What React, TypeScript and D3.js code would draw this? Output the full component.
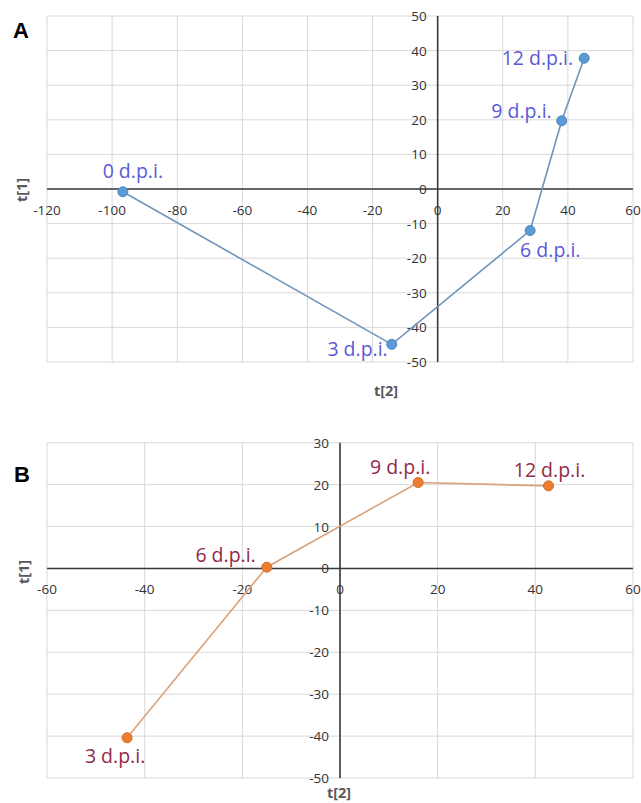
import React from "react";
import * as d3 from "d3";

// Panel A data
const labelsA = ["0 d.p.i.", "3 d.p.i.", "6 d.p.i.", "9 d.p.i.", "12 d.p.i."];
const t2A = [-96.7, -14.1, 28.4, 38.1, 45.0];
const t1A = [-0.8, -44.9, -12.0, 19.7, 37.8];

// Panel B data
const labelsB = ["3 d.p.i.", "6 d.p.i.", "9 d.p.i.", "12 d.p.i."];
const t2B = [-43.6, -15.0, 16.0, 42.7];
const t1B = [-40.4, 0.3, 20.5, 19.7];

// Axis ticks
const xTicksA = [-120, -100, -80, -60, -40, -20, 0, 20, 40, 60];
const yTicksA = [-50, -40, -30, -20, -10, 0, 10, 20, 30, 40, 50];
const xTicksB = [-60, -40, -20, 0, 20, 40, 60];
const yTicksB = [-50, -40, -30, -20, -10, 0, 10, 20, 30];

// label placement (pixel offsets from point, anchor)
const placeA: [number, number, string][] = [
  [10, -14, "middle"],
  [-4, 12, "end"],
  [-10, 26, "start"],
  [-10, -3, "end"],
  [-11, 7, "end"],
];
const placeB: [number, number, string][] = [
  [-12, 25, "middle"],
  [-11, -5, "end"],
  [-18, -9, "middle"],
  [1, -9, "middle"],
];

type PanelProps = {
  letter: string;
  xDomain: [number, number];
  yDomain: [number, number];
  xRange: [number, number];
  yRange: [number, number];
  xTicks: number[];
  yTicks: number[];
  xs: number[];
  ys: number[];
  labels: string[];
  place: [number, number, string][];
  lineColor: string;
  markerColor: string;
  markerStroke: string;
  labelColor: string;
  letterPos: [number, number];
  t1Pos: [number, number];
  t2Pos: [number, number];
};

const tickFont = "'Open Sans', 'Noto Sans', sans-serif";

function Panel(p: PanelProps) {
  const x = d3.scaleLinear().domain(p.xDomain).range(p.xRange);
  const y = d3.scaleLinear().domain(p.yDomain).range(p.yRange);
  const x0 = x(0);
  const y0 = y(0);
  const line = d3
    .line<number>()
    .x((_, i) => x(p.xs[i]))
    .y((_, i) => y(p.ys[i]));
  const idx = p.xs.map((_, i) => i);
  return (
    <g>
      {/* gridlines */}
      {p.xTicks.map((t) => (
        <line key={"gx" + t} x1={x(t)} x2={x(t)} y1={p.yRange[1]} y2={p.yRange[0]} stroke="#d9d9d9" strokeWidth={1} />
      ))}
      {p.yTicks.map((t) => (
        <line key={"gy" + t} x1={p.xRange[0]} x2={p.xRange[1]} y1={y(t)} y2={y(t)} stroke="#d9d9d9" strokeWidth={1} />
      ))}
      {/* axes */}
      <line x1={p.xRange[0]} x2={p.xRange[1]} y1={y0} y2={y0} stroke="#3a3a3a" strokeWidth={1.6} />
      <line x1={x0} x2={x0} y1={p.yRange[1]} y2={p.yRange[0]} stroke="#3a3a3a" strokeWidth={1.6} />
      {/* tick labels */}
      {p.xTicks.map((t) => (
        <text key={"tx" + t} x={x(t)} y={y0 + 26} textAnchor="middle" fontFamily={tickFont} fontSize={13.5} fill="#333">
          {t}
        </text>
      ))}
      {p.yTicks.map((t) => (
        <text key={"ty" + t} x={x0 - 11} y={y(t) + 5} textAnchor="end" fontFamily={tickFont} fontSize={13.5} fill="#333">
          {t}
        </text>
      ))}
      {/* series line */}
      <path d={line(idx) || ""} fill="none" stroke={p.lineColor} strokeWidth={1.6} />
      {idx.map((i) => (
        <circle key={"c" + i} cx={x(p.xs[i])} cy={y(p.ys[i])} r={5} fill={p.markerColor} stroke={p.markerStroke} strokeWidth={1} />
      ))}
      {idx.map((i) => (
        <text
          key={"l" + i}
          x={x(p.xs[i]) + p.place[i][0]}
          y={y(p.ys[i]) + p.place[i][1]}
          textAnchor={p.place[i][2] as any}
          fontFamily={tickFont}
          fontSize={19.5}
          fill={p.labelColor}
        >
          {p.labels[i]}
        </text>
      ))}
      {/* titles */}
      <text x={p.letterPos[0]} y={p.letterPos[1]} fontFamily="'Liberation Sans', Arial, sans-serif" fontWeight="bold" fontSize={22} fill="#000">
        {p.letter}
      </text>
      <text
        transform={`translate(${p.t1Pos[0]},${p.t1Pos[1]}) rotate(-90)`}
        textAnchor="middle"
        fontFamily={tickFont}
        fontWeight="bold"
        fontSize={14.5}
        fill="#595959"
      >
        t[1]
      </text>
      <text x={p.t2Pos[0]} y={p.t2Pos[1]} textAnchor="middle" fontFamily={tickFont} fontWeight="bold" fontSize={14.5} fill="#595959">
        t[2]
      </text>
    </g>
  );
}

export default function App() {
  return (
    <svg width={641} height={803} style={{ position: "absolute", left: 0, top: 0, background: "#fff" }}>
      <rect width={641} height={803} fill="#fff" />
      <Panel
        letter="A"
        xDomain={[-120, 60]}
        yDomain={[-50, 50]}
        xRange={[47, 633]}
        yRange={[362, 16]}
        xTicks={xTicksA}
        yTicks={yTicksA}
        xs={t2A}
        ys={t1A}
        labels={labelsA}
        place={placeA}
        lineColor="#6f94b9"
        markerColor="#5b9bd5"
        markerStroke="#4a86c0"
        labelColor="#5a5ad6"
        letterPos={[13, 38]}
        t1Pos={[27, 190]}
        t2Pos={[386, 396]}
      />
      <Panel
        letter="B"
        xDomain={[-60, 60]}
        yDomain={[-50, 30]}
        xRange={[47, 633]}
        yRange={[778, 442.7]}
        xTicks={xTicksB}
        yTicks={yTicksB}
        xs={t2B}
        ys={t1B}
        labels={labelsB}
        place={placeB}
        lineColor="#d9a27c"
        markerColor="#ed7d31"
        markerStroke="#d46a22"
        labelColor="#93284a"
        letterPos={[14, 482]}
        t1Pos={[29, 572]}
        t2Pos={[339, 798]}
      />
    </svg>
  );
}
